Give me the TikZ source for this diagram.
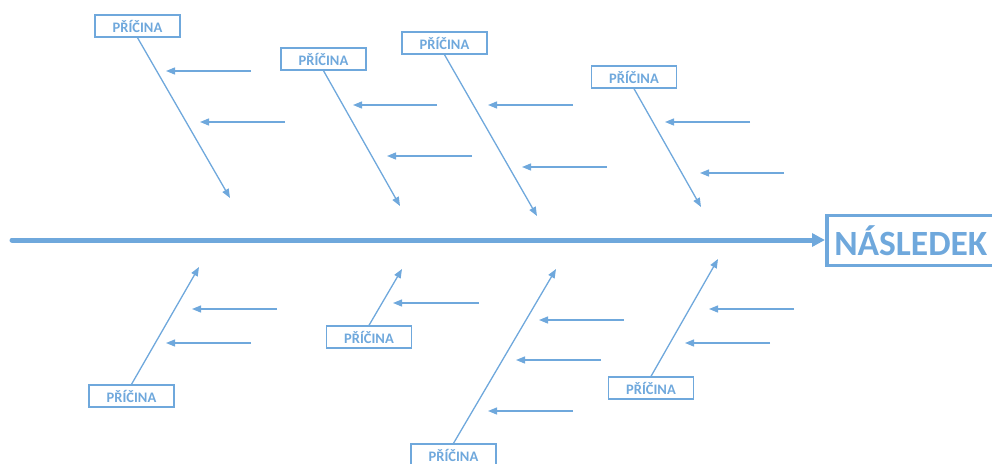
\documentclass[tikz,border=0pt]{standalone}
\usepackage{fontspec}
\setmainfont{Carlito}
\usetikzlibrary{arrows.meta}
\definecolor{fishblue}{RGB}{111,168,220}
\begin{document}
\begin{tikzpicture}[x=1pt,y=-1pt,
  cause/.style={draw=fishblue,line width=1.4pt,minimum width=85pt,minimum height=22pt,
    inner sep=0pt,text=fishblue,font=\fontsize{14.5}{16}\selectfont\bfseries},
  effect/.style={draw=fishblue,line width=3.6pt,minimum width=168pt,minimum height=50pt,
    inner sep=0pt,text=fishblue,anchor=west,font=\fontsize{35.5}{40}\selectfont\bfseries},
  bone/.style={draw=fishblue,line width=1.3pt,-{Triangle[length=9pt,width=7pt]}},
  rib/.style={draw=fishblue,line width=1.3pt,-{Triangle[length=9pt,width=7pt]}},
  spine/.style={draw=fishblue,line width=5pt,line cap=round,-{Triangle[length=13pt,width=13pt]}}]
\useasboundingbox (0,0) rectangle (992,463);
\clip (0,0) rectangle (992,463);

% effect box and main spine
\node[effect] (eff) at (825,240.5) {NÁSLEDEK};
\coordinate (tail) at (12,240);
\draw[spine] (tail) -- (tail -| eff.west);

% upper causes
\node[cause] (c1) at (137.5,26) {PŘÍČINA};
\node[cause] (c2) at (323.5,59) {PŘÍČINA};
\node[cause] (c3) at (444.5,43) {PŘÍČINA};
\node[cause] (c4) at (634,77) {PŘÍČINA};
\coordinate (e1) at (230,198);
\coordinate (e2) at (400,206);
\coordinate (e3) at (537,216);
\coordinate (e4) at (701,207);
\draw[bone] (c1.south) -- (e1);
\draw[bone] (c2.south) -- (e2);
\draw[bone] (c3.south) -- (e3);
\draw[bone] (c4.south) -- (e4);

% lower causes
\node[cause] (c5) at (131.5,396) {PŘÍČINA};
\node[cause] (c6) at (369,337) {PŘÍČINA};
\node[cause] (c7) at (453.5,455) {PŘÍČINA};
\node[cause] (c8) at (651,388) {PŘÍČINA};
\coordinate (e5) at (199,267);
\coordinate (e6) at (402,269);
\coordinate (e7) at (556,269);
\coordinate (e8) at (718,259);
\draw[bone] (c5.north) -- (e5);
\draw[bone] (c6.north) -- (e6);
\draw[bone] (c7.north) -- (e7);
\draw[bone] (c8.north) -- (e8);

% sub-cause arrows (start, end)
\foreach \sx/\ex/\yy [count=\i] in {
  251/166/71, 285/200/122,
  437/353/105, 472/387/156,
  573/488/105, 607/522/167,
  750/665/122, 784/700/173,
  277/192/309, 251/166/343,
  479/393/303,
  624/539/320, 601/516/360, 573/488/411,
  794/709/309, 770/685/343} {
  \coordinate (rs\i) at (\sx,\yy);
  \coordinate (re\i) at (\ex,\yy);
  \draw[rib] (rs\i) -- (re\i);
}
\end{tikzpicture}
\end{document}
